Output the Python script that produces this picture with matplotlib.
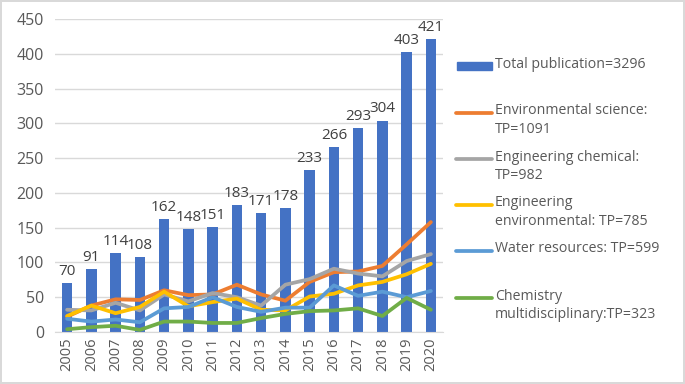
import matplotlib
matplotlib.use("Agg")
import matplotlib.pyplot as plt
from matplotlib.lines import Line2D
from matplotlib.patches import Rectangle
import numpy as np

years = [str(y) for y in range(2005, 2021)]
total = [70, 91, 114, 108, 162, 148, 151, 183, 171, 178, 233, 266, 293, 304, 403, 421]
env_science = [22, 38, 47, 46, 60, 53, 54, 68, 54, 45, 72, 86, 87, 95, 126, 158]
eng_chemical = [32, 31, 42, 31, 54, 44, 56, 50, 38, 68, 76, 91, 84, 80, 102, 112]
eng_environmental = [23, 38, 27, 36, 58, 37, 43, 48, 32, 31, 51, 55, 67, 72, 83, 98]
water = [19, 15, 18, 14, 34, 36, 50, 36, 29, 35, 35, 67, 52, 58, 50, 59]
chemistry = [4, 7, 9, 3, 15, 15, 13, 13, 20, 26, 30, 31, 34, 23, 49, 32]

series = [
    ("Environmental science:\nTP=1091", env_science, "#ED7D31"),
    ("Engineering chemical:\nTP=982", eng_chemical, "#A5A5A5"),
    ("Engineering\nenvironmental: TP=785", eng_environmental, "#FFC000"),
    ("Water resources: TP=599", water, "#5B9BD5"),
    ("Chemistry\nmultidisciplinary:TP=323", chemistry, "#70AD47"),
]

plt.rcParams["font.family"] = ["Open Sans", "DejaVu Sans"]
TXT = "#595959"

fig = plt.figure(figsize=(6.85, 3.84), dpi=100)
fig.patch.set_edgecolor("#D9D9D9")
fig.patch.set_linewidth(1.5)
ax = fig.add_axes([55 / 685, 1 - 332 / 384, 388 / 685, 313 / 384])

x = np.arange(len(years))
ax.bar(x, total, width=0.43, color="#4472C4", zorder=2)
for xi, v in zip(x, total):
    ax.annotate(str(v), (xi, v), xytext=(0, 3), textcoords="offset points",
                ha="center", va="bottom", fontsize=11, color="#404040")

for i, (label, vals, col) in enumerate(series):
    ax.plot(x, vals, color=col, linewidth=2.7, zorder=3 + i,
            solid_capstyle="round", solid_joinstyle="round")

ax.set_xlim(-0.5, len(years) - 0.5)
ax.set_ylim(0, 450)
ax.set_yticks(range(0, 451, 50))
ax.set_xticks(x)
ax.set_xticklabels(years, rotation=90, fontsize=10.5, color=TXT)
ax.tick_params(axis="y", labelsize=11.5, colors=TXT, length=0, pad=8)
ax.tick_params(axis="x", length=0, pad=4)
ax.grid(axis="y", color="#D9D9D9", linewidth=1, zorder=0)
ax.set_axisbelow(True)
for s in ["top", "right", "left"]:
    ax.spines[s].set_visible(False)
ax.spines["bottom"].set_color("#D9D9D9")

# legend drawn by hand so handles sit on the first text line
W, H = 685, 384
entries = [("Total publication=3296", "#4472C4", 66, True)] + [
    (lab, col, yy, False) for (lab, _, col), yy in zip(series, [113, 159, 205, 251, 298])
]
for lab, col, yy, is_bar in entries:
    if is_bar:
        fig.add_artist(Rectangle((457 / W, 1 - (yy + 4) / H), 35 / W, 8 / H,
                                 color=col, transform=fig.transFigure))
    else:
        fig.add_artist(Line2D([456 / W, 492 / W], [1 - yy / H] * 2, color=col,
                              linewidth=2.7, solid_capstyle="round",
                              transform=fig.transFigure))
    fig.text(495 / W, 1 - (yy - 9.5) / H, lab, fontsize=10.2, color=TXT,
             ha="left", va="top", linespacing=1.35)

fig.savefig("out.png", dpi=100)
